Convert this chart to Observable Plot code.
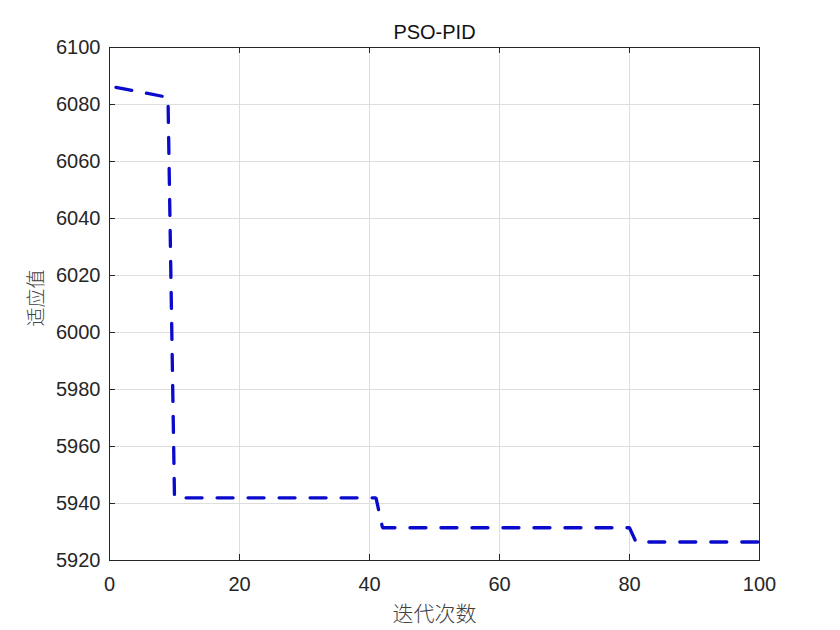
<!DOCTYPE html>
<html>
<head>
<meta charset="utf-8">
<script src="https://cdn.jsdelivr.net/npm/d3@7"></script>
<script src="https://cdn.jsdelivr.net/npm/@observablehq/plot@0.6"></script>
<style>
  body { margin: 0; background: #fff; }
</style>
</head>
<body>
<div id="chart"></div>
<script>
const iterations = [1, 9, 10, 41, 42, 80, 81, 100];
const fitness = [6086, 6082.5, 5942, 5942, 5931.5, 5931.5, 5926.5, 5926.5];
const xTicks = [0, 20, 40, 60, 80, 100];
const yTicks = [5920, 5940, 5960, 5980, 6000, 6020, 6040, 6060, 6080, 6100];
const titleText = "PSO-PID";
const xLabel = "迭代次数";
const yLabel = "适应值";

const data = iterations.map((x, i) => ({x, y: fitness[i]}));

const W = 840, H = 630;
const mL = 109, mR = 81, mT = 47, mB = 70;
const innerW = W - mL - mR, innerH = H - mT - mB;
const ink = "#262626";
const tick = 6;
const cjk = "'Noto Sans CJK SC', sans-serif";

const chart = Plot.plot({
  width: W,
  height: H,
  marginLeft: mL,
  marginRight: mR,
  marginTop: mT,
  marginBottom: mB,
  style: {fontFamily: "'Liberation Sans', Arial, sans-serif", background: "#fff", color: ink},
  x: {domain: [0, 100]},
  y: {domain: [5920, 6100]},
  marks: [
    Plot.gridX(xTicks, {stroke: "#dedede", strokeOpacity: 1}),
    Plot.gridY(yTicks, {stroke: "#dedede", strokeOpacity: 1}),
    // inward ticks bottom & top
    Plot.ruleX(xTicks, {x: d => d, stroke: ink, insetTop: innerH - tick}),
    Plot.ruleX(xTicks, {x: d => d, stroke: ink, insetBottom: innerH - tick}),
    // inward ticks left & right
    Plot.ruleY(yTicks, {y: d => d, stroke: ink, insetRight: innerW - tick}),
    Plot.ruleY(yTicks, {y: d => d, stroke: ink, insetLeft: innerW - tick}),
    Plot.axisX({ticks: xTicks, tickSize: 0, tickPadding: 16, tickFormat: d3.format("d"), label: null, fontSize: 20, color: ink}),
    Plot.axisY({ticks: yTicks, tickSize: 0, tickPadding: 9, tickFormat: d3.format("d"), label: null, fontSize: 20, color: ink}),
    Plot.frame({stroke: ink, strokeWidth: 1}),
    Plot.line(data, {x: "x", y: "y", stroke: "#0a0acc", strokeWidth: 3.3, strokeDasharray: "16,15", strokeLinejoin: "miter"}),
    Plot.text([titleText], {frameAnchor: "top", dy: -9, fontSize: 20, fill: "#111", lineAnchor: "bottom"}),
    Plot.text([xLabel], {frameAnchor: "bottom", textAnchor: "middle", dy: 60, fontSize: 21, fill: "#404040", lineAnchor: "bottom", fontFamily: cjk, fontWeight: 300}),
    Plot.text([yLabel], {frameAnchor: "left", textAnchor: "middle", lineAnchor: "middle", dx: -73, dy: -6, rotate: -90, fontSize: 19, fill: "#404040", fontFamily: cjk, fontWeight: 300})
  ]
});
document.getElementById("chart").appendChild(chart);
</script>
</body>
</html>
